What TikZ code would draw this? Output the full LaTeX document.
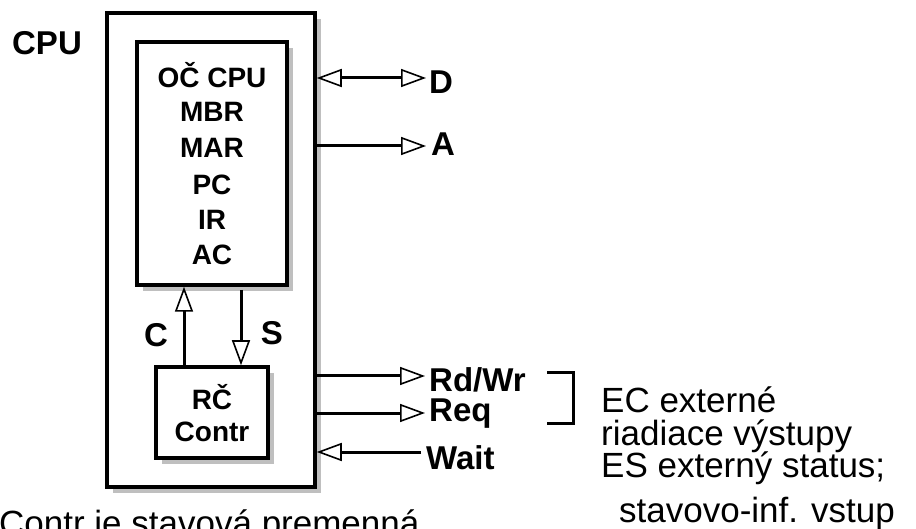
\documentclass[tikz,border=0pt]{standalone}
\usepackage{fontspec}
\setmainfont{Liberation Sans}
\usetikzlibrary{arrows.meta,shadows,calc}
\begin{document}
\begin{tikzpicture}[x=1pt,y=-1pt,
  boxstyle/.style={draw=black, line width=3.5pt, fill=white, inner sep=0pt,
    drop shadow={shadow xshift=6pt, shadow yshift=-6pt, fill=black!25, opacity=1}},
  wire/.style={line width=3pt},
  tri/.tip={Triangle[open, length=25pt, width=18pt, line width=1.6pt, fill=white]},
  blab/.style={font=\fontsize{33}{40}\selectfont\bfseries, inner sep=0pt},
  ilab/.style={font=\fontsize{28}{32}\selectfont\bfseries, inner sep=0pt},
  rlab/.style={font=\fontsize{35}{40}\selectfont, inner sep=0pt, anchor=base west}
]
\useasboundingbox (0,0) rectangle (916,529);
\fill[white] (0,0) rectangle (916,529);

% boxes
\node[boxstyle, minimum width=208pt, minimum height=474pt] (outer) at (211,250) {};
\node[boxstyle, minimum width=150pt, minimum height=243pt] (inner) at (212,163.5) {};
\node[boxstyle, minimum width=112pt, minimum height=91pt] (ctrl) at (212,412.5) {};

% inner text
\node[ilab] (t1) at (212,75) {OČ CPU};
\node[ilab] (t2) at (212,112) {MBR};
\node[ilab] (t3) at (212,148) {MAR};
\node[ilab] (t4) at (212,185) {PC};
\node[ilab] (t5) at (212,220) {IR};
\node[ilab] (t6) at (212,255) {AC};
\node[ilab] (r1) at (212,397) {RČ};
\node[ilab] (r2) at (212,432) {Contr};

% labels
\node[blab] (cpu) at (47,43) {CPU};
\node[blab] (lC) at (156,335) {C};
\node[blab] (lS) at (272,333) {S};
\node[blab, anchor=west] (lD) at (429,82) {D};
\node[blab, anchor=west] (lA) at (431,144) {A};
\node[blab, anchor=west] (lRW) at (429,380) {Rd/Wr};
\node[blab, anchor=west] (lReq) at (429,414) {Req};
\node[blab, anchor=west] (lW) at (426,458) {Wait};

% connector end coordinates
\coordinate (dE) at (426,78);
\coordinate (aE) at (426,146);
\coordinate (rwE) at (425,376);
\coordinate (rqE) at (425,413);
\coordinate (wS) at (421,452);
\coordinate (cX) at (184,0);
\coordinate (sX) at (241,0);
\coordinate (sTop) at (241,290);

\draw[wire, tri-tri] (outer.east |- dE) -- (dE);
\draw[wire, -tri] (outer.east |- aE) -- (aE);
\draw[wire, -tri] (outer.east |- rwE) -- (rwE);
\draw[wire, -tri] (outer.east |- rqE) -- (rqE);
\draw[wire, -tri] (wS) -- (outer.east |- wS);
\draw[wire, -tri] (ctrl.north -| cX) -- (inner.south -| cX);
\draw[wire, -tri] (sTop) -- (ctrl.north -| sX);

% bracket
\coordinate (b1) at (547,373);
\coordinate (b2) at (573,373);
\coordinate (b3) at (573,423);
\coordinate (b4) at (547,423);
\draw[line width=3pt] (b1) -- (b2) -- (b3) -- (b4);

% right texts
\node[rlab] (ec1) at (601,412) {EC externé};
\node[rlab] (ec2) at (601,445) {riadiace výstupy};
\node[rlab] (es1) at (601,477) {ES externý status;};
\node[rlab] (es2) at (619,522) {stavovo-inf. vstup};
\node[rlab] (bot) at (-1,535) {Contr je stavová premenná};
\end{tikzpicture}
\end{document}
